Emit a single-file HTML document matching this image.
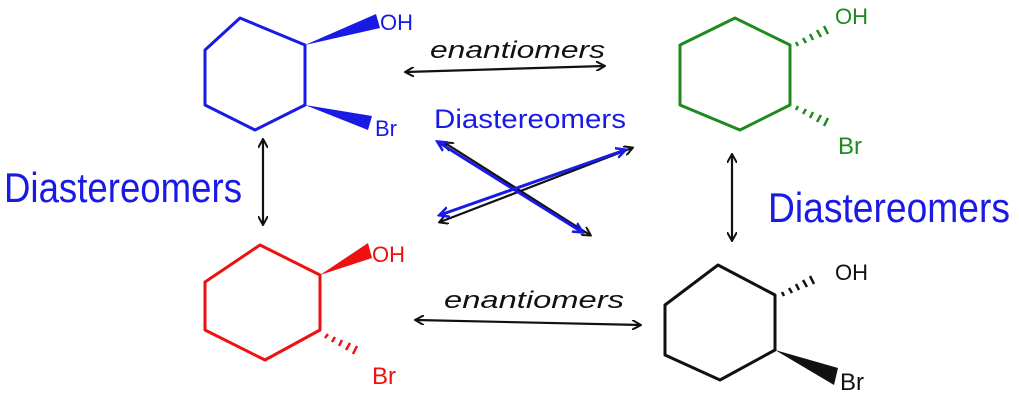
<!DOCTYPE html>
<html><head><meta charset="utf-8"><style>
html,body{margin:0;padding:0;background:#fff;width:1019px;height:406px;overflow:hidden}
svg text{font-family:"Liberation Sans",sans-serif}
</style></head><body>
<svg width="1019" height="406" viewBox="0 0 1019 406" xmlns="http://www.w3.org/2000/svg">
<defs>
<marker id="ak" markerWidth="10" markerHeight="10" refX="8" refY="5" orient="auto-start-reverse" markerUnits="userSpaceOnUse"><path d="M0,0 L9,5 L0,10" fill="none" stroke="#111" stroke-width="2"/></marker>
<marker id="ab" markerWidth="12" markerHeight="12" refX="9" refY="6" orient="auto-start-reverse" markerUnits="userSpaceOnUse"><path d="M0,1 L10,6 L0,11" fill="none" stroke="#1a1ae6" stroke-width="2.5"/></marker>
</defs>
<!-- blue -->
<g stroke="#1a1ae6" stroke-width="3" fill="none" stroke-linejoin="round">
<path d="M240,18 L305,45 L305,105 L255,130 L205,105 L205,50 Z"/>
</g>
<polygon points="305,45 376,14 380,28" fill="#1a1ae6"/>
<polygon points="305,105 372,116 368,130" fill="#1a1ae6"/>
<text x="380" y="30" font-size="22" fill="#1a1ae6">OH</text>
<text x="375" y="136" font-size="22" fill="#1a1ae6">Br</text>
<!-- green -->
<g stroke="#1f8a1f" stroke-width="3" fill="none" stroke-linejoin="round">
<path d="M735,18 L790,45 L790,105 L740,130 L680,105 L680,45 Z"/>
<path d="M796,42 l2,4 M803,38 l3,5 M810,34 l3,6 M817,30 l4,7 M824,26 l4,8" stroke-width="2.5"/>
<path d="M796,110 l2,-4 M803,114 l3,-5 M810,118 l3,-6 M817,122 l4,-7 M824,126 l4,-8" stroke-width="2.5"/>
</g>
<text x="835" y="24" font-size="22" fill="#1f8a1f">OH</text>
<text x="838" y="154" font-size="24" fill="#1f8a1f">Br</text>
<!-- red -->
<g stroke="#ee1111" stroke-width="3" fill="none" stroke-linejoin="round">
<path d="M260,245 L320,275 L320,330 L265,360 L205,330 L205,282 Z"/>
<path d="M325,338 l3,-4 M332,342 l3,-5 M339,346 l3,-6 M346,350 l4,-7 M353,354 l4,-8" stroke-width="2.5"/>
</g>
<polygon points="320,275 368,243 372,258" fill="#ee1111"/>
<text x="372" y="262" font-size="22" fill="#ee1111">OH</text>
<text x="372" y="384" font-size="24" fill="#ee1111">Br</text>
<!-- black -->
<g stroke="#111" stroke-width="3" fill="none" stroke-linejoin="round">
<path d="M718,265 L775,295 L775,350 L720,380 L665,355 L665,305 Z"/>
<path d="M782,292 l2,4 M789,288 l3,5 M796,284 l3,6 M803,280 l4,7 M810,276 l4,8" stroke-width="2.5"/>
</g>
<polygon points="775,350 838,368 834,385" fill="#111"/>
<text x="835" y="280" font-size="22" fill="#111">OH</text>
<text x="840" y="390" font-size="24" fill="#111">Br</text>
<!-- arrows -->
<g fill="none" stroke-width="2.2">
<line x1="406" y1="72" x2="604" y2="66" stroke="#111" marker-start="url(#ak)" marker-end="url(#ak)"/>
<line x1="263" y1="140" x2="263" y2="224" stroke="#111" marker-start="url(#ak)" marker-end="url(#ak)"/>
<line x1="732" y1="155" x2="732" y2="240" stroke="#111" marker-start="url(#ak)" marker-end="url(#ak)"/>
<line x1="416" y1="320" x2="640" y2="325" stroke="#111" marker-start="url(#ak)" marker-end="url(#ak)"/>
<line x1="445" y1="143" x2="590" y2="235" stroke="#111" marker-start="url(#ak)" marker-end="url(#ak)"/>
<line x1="440" y1="222" x2="632" y2="148" stroke="#111" marker-start="url(#ak)" marker-end="url(#ak)"/>
<line x1="438" y1="142" x2="582" y2="232" stroke="#1a1ae6" stroke-width="3" marker-start="url(#ab)" marker-end="url(#ab)"/>
<line x1="440" y1="215" x2="625" y2="150" stroke="#1a1ae6" stroke-width="3" marker-start="url(#ab)" marker-end="url(#ab)"/>
</g>
<!-- labels -->
<text x="430" y="58" font-size="24" font-style="italic" fill="#111" textLength="175" lengthAdjust="spacingAndGlyphs">enantiomers</text>
<text x="444" y="308" font-size="24" font-style="italic" fill="#111" textLength="180" lengthAdjust="spacingAndGlyphs">enantiomers</text>
<text x="434" y="128" font-size="27" fill="#1a1ae6" textLength="192" lengthAdjust="spacingAndGlyphs">Diastereomers</text>
<text x="4" y="202" font-size="42" fill="#1a1ae6" textLength="238" lengthAdjust="spacingAndGlyphs">Diastereomers</text>
<text x="768" y="222" font-size="42" fill="#1a1ae6" textLength="242" lengthAdjust="spacingAndGlyphs">Diastereomers</text>
</svg>
</body></html>
